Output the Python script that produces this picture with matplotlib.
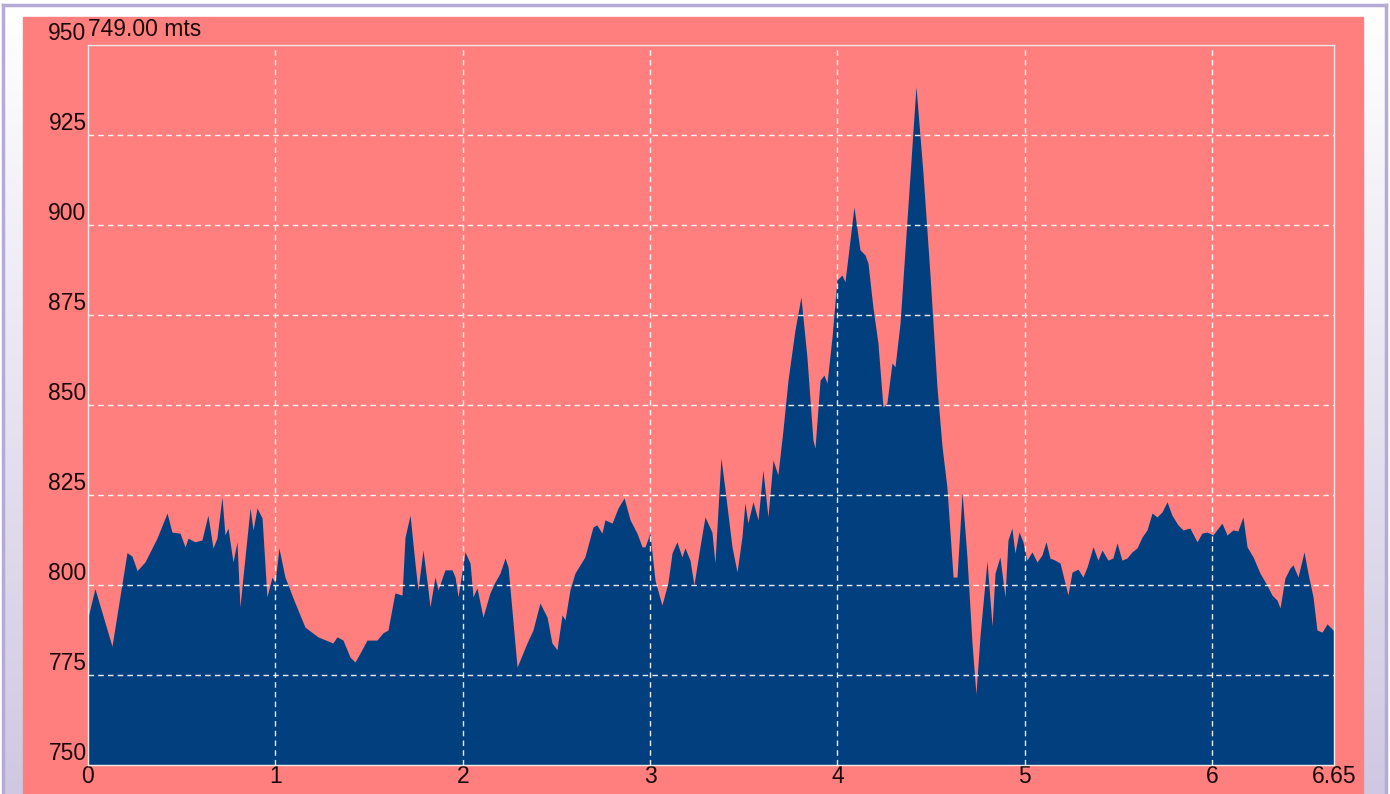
import numpy as np
import matplotlib
matplotlib.use("Agg")
import matplotlib.pyplot as plt
from matplotlib.colors import LinearSegmentedColormap
from matplotlib.patches import Rectangle

# elevation profile (km, m)
dist = [0.000, 0.037, 0.128, 0.208, 0.235, 0.262, 0.304, 0.368, 0.422, 0.448,
        0.491, 0.518, 0.534, 0.571, 0.608, 0.640, 0.667, 0.688, 0.715, 0.731,
        0.747, 0.774, 0.795, 0.811, 0.827, 0.865, 0.881, 0.902, 0.929, 0.955,
        0.982, 0.998, 1.019, 1.051, 1.105, 1.158, 1.227, 1.307, 1.329, 1.361,
        1.398, 1.425, 1.452, 1.489, 1.542, 1.574, 1.601, 1.638, 1.676, 1.692,
        1.719, 1.745, 1.761, 1.788, 1.815, 1.825, 1.852, 1.868, 1.905, 1.943,
        1.959, 1.975, 2.012, 2.039, 2.055, 2.076, 2.108, 2.145, 2.172, 2.199,
        2.226, 2.242, 2.290, 2.343, 2.375, 2.412, 2.450, 2.476, 2.503, 2.530,
        2.546, 2.572, 2.599, 2.652, 2.695, 2.716, 2.743, 2.759, 2.797, 2.829,
        2.861, 2.893, 2.930, 2.957, 2.973, 2.999, 3.026, 3.063, 3.095, 3.117,
        3.143, 3.170, 3.186, 3.213, 3.234, 3.266, 3.293, 3.330, 3.346, 3.378,
        3.400, 3.437, 3.464, 3.490, 3.506, 3.522, 3.549, 3.576, 3.602, 3.629,
        3.656, 3.682, 3.709, 3.736, 3.773, 3.805, 3.837, 3.869, 3.880, 3.907,
        3.928, 3.944, 3.971, 3.997, 4.024, 4.040, 4.056, 4.088, 4.120, 4.147,
        4.163, 4.189, 4.216, 4.243, 4.264, 4.291, 4.307, 4.334, 4.371, 4.419,
        4.456, 4.494, 4.531, 4.558, 4.584, 4.617, 4.638, 4.665, 4.691, 4.718,
        4.739, 4.761, 4.798, 4.825, 4.841, 4.867, 4.894, 4.910, 4.931, 4.947,
        4.969, 4.990, 5.011, 5.038, 5.065, 5.091, 5.113, 5.134, 5.161, 5.188,
        5.214, 5.230, 5.252, 5.284, 5.310, 5.332, 5.364, 5.390, 5.412, 5.444,
        5.470, 5.492, 5.518, 5.545, 5.572, 5.599, 5.625, 5.652, 5.679, 5.705,
        5.732, 5.759, 5.785, 5.817, 5.844, 5.881, 5.919, 5.945, 5.972, 6.004,
        6.052, 6.079, 6.111, 6.137, 6.164, 6.186, 6.218, 6.255, 6.292, 6.319,
        6.346, 6.362, 6.388, 6.415, 6.431, 6.458, 6.490, 6.511, 6.538, 6.559,
        6.586, 6.613, 6.645, 6.650]
elev = [791.0, 799.0, 783.0, 809.0, 808.0, 804.0, 806.4, 813.0, 820.0, 814.7,
        814.4, 810.6, 813.0, 812.0, 812.5, 819.4, 810.3, 813.0, 824.4, 813.9,
        815.8, 806.4, 812.0, 793.9, 802.2, 821.4, 815.3, 821.4, 818.6, 796.7,
        802.2, 800.6, 810.3, 802.2, 795.0, 788.3, 785.6, 783.9, 785.6, 784.7,
        780.0, 778.6, 781.1, 784.7, 784.7, 786.7, 787.5, 797.8, 797.2, 813.3,
        819.4, 806.1, 798.6, 809.7, 798.6, 793.9, 802.2, 798.6, 804.2, 804.2,
        802.2, 796.7, 809.2, 806.1, 796.7, 799.2, 791.1, 797.8, 800.8, 803.3,
        807.5, 805.0, 777.2, 783.9, 787.5, 795.0, 791.1, 783.9, 782.0, 791.7,
        790.3, 798.6, 803.3, 807.8, 816.1, 816.7, 814.4, 818.1, 817.2, 821.4,
        824.2, 818.1, 814.4, 810.6, 810.6, 814.4, 801.4, 794.4, 800.6, 808.9,
        812.0, 807.8, 810.3, 806.9, 800.0, 810.6, 818.9, 814.7, 806.1, 835.3,
        826.4, 810.6, 803.6, 813.3, 822.8, 817.2, 823.1, 818.1, 831.9, 818.9,
        834.7, 830.6, 843.0, 856.9, 870.8, 880.0, 863.3, 840.3, 838.0, 856.9,
        858.3, 856.1, 868.9, 884.7, 886.1, 884.2, 891.1, 905.0, 893.1, 891.7,
        889.4, 877.2, 867.2, 849.4, 850.6, 861.7, 860.6, 872.8, 901.4, 938.5,
        914.7, 886.0, 855.0, 838.5, 827.2, 802.2, 802.2, 825.6, 807.8, 783.9,
        769.7, 786.1, 806.7, 788.6, 803.3, 807.8, 796.7, 812.5, 815.8, 808.9,
        814.7, 812.0, 806.9, 809.2, 806.4, 808.3, 812.0, 807.5, 806.9, 806.1,
        800.6, 797.2, 803.6, 804.4, 802.2, 805.0, 810.6, 806.9, 809.7, 806.9,
        807.5, 811.7, 806.9, 807.5, 809.2, 810.3, 813.3, 815.3, 820.0, 818.9,
        820.3, 823.1, 819.4, 816.7, 815.3, 815.8, 812.0, 814.4, 814.7, 813.9,
        817.2, 813.9, 815.3, 815.0, 818.9, 810.6, 807.8, 803.3, 800.0, 797.2,
        795.8, 793.6, 801.9, 804.7, 805.6, 802.2, 809.2, 803.3, 796.7, 787.5,
        786.9, 789.2, 787.5, 787.0]

x_ticks = [0, 1, 2, 3, 4, 5, 6, 6.65]
x_labels = ['0', '1', '2', '3', '4', '5', '6', '6.65']
y_ticks = [750, 775, 800, 825, 850, 875, 900, 925, 950]
title_text = '749.00 mts'

salmon = '#FF7F7F'
navy = '#023F7E'
lavender = '#B6AAD6'

W, H = 1390, 794
fig = plt.figure(figsize=(W / 100, H / 100), dpi=100, facecolor='white')
plt.rcParams['font.family'] = ['Liberation Sans', 'DejaVu Sans']

# frame decoration in pixel coordinates
bg = fig.add_axes([0, 0, 1, 1], zorder=0)
bg.set_xlim(0, W)
bg.set_ylim(H, 0)
bg.axis('off')
grad = LinearSegmentedColormap.from_list('g', ['#FFFFFF', '#D0C8E2'])
g = np.linspace(0, 1, 256).reshape(-1, 1)
bg.imshow(g, cmap=grad, extent=(4, 23, H, 6), aspect='auto', zorder=1)
bg.imshow(g, cmap=grad, extent=(1363, 1385, H, 6), aspect='auto', zorder=1)
bg.add_patch(Rectangle((23, 17), 1340, H - 17, color=salmon, zorder=2))
bg.plot([3, 1386], [5, 5], color=lavender, lw=2.5, zorder=3)
bg.plot([3, 3], [5, H], color=lavender, lw=2.5, zorder=3)
bg.plot([1386, 1386], [5, H], color=lavender, lw=2.5, zorder=3)

ax = fig.add_axes([88 / W, 1 - 765 / H, (1334 - 88) / W, (765 - 45) / H], zorder=1)
ax.set_facecolor(salmon)
ax.fill_between(dist, elev, 750, color=navy, lw=0, zorder=1)

ax.set_xlim(0, 6.65)
ax.set_ylim(750, 950)
ax.set_xticks(x_ticks)
ax.set_xticklabels(x_labels)
ax.set_yticks(y_ticks)
ax.set_yticklabels([str(v) for v in y_ticks])
ax.tick_params(length=0, labelsize=16.5, labelcolor='#1A0808', pad=1)
ax.tick_params(axis='x', pad=0)
for lbl in ax.get_yticklabels():
    lbl.set_verticalalignment('bottom')

for v in y_ticks[1:-1]:
    ax.axhline(v, color='white', lw=1, ls=(0, (4, 3)), alpha=0.9, zorder=2)
for v in x_ticks[1:-1]:
    ax.axvline(v, color='white', lw=1, ls=(0, (4, 3)), alpha=0.9, zorder=2)

for s in ax.spines.values():
    s.set_color('#F4E8E8')
    s.set_linewidth(1)

ax.annotate(title_text, xy=(0, 1), xycoords='axes fraction', xytext=(0, 3),
            textcoords='offset points', ha='left', va='bottom',
            fontsize=16.5, color='#1A0808')

fig.savefig('out.png', dpi=100, facecolor='white')
